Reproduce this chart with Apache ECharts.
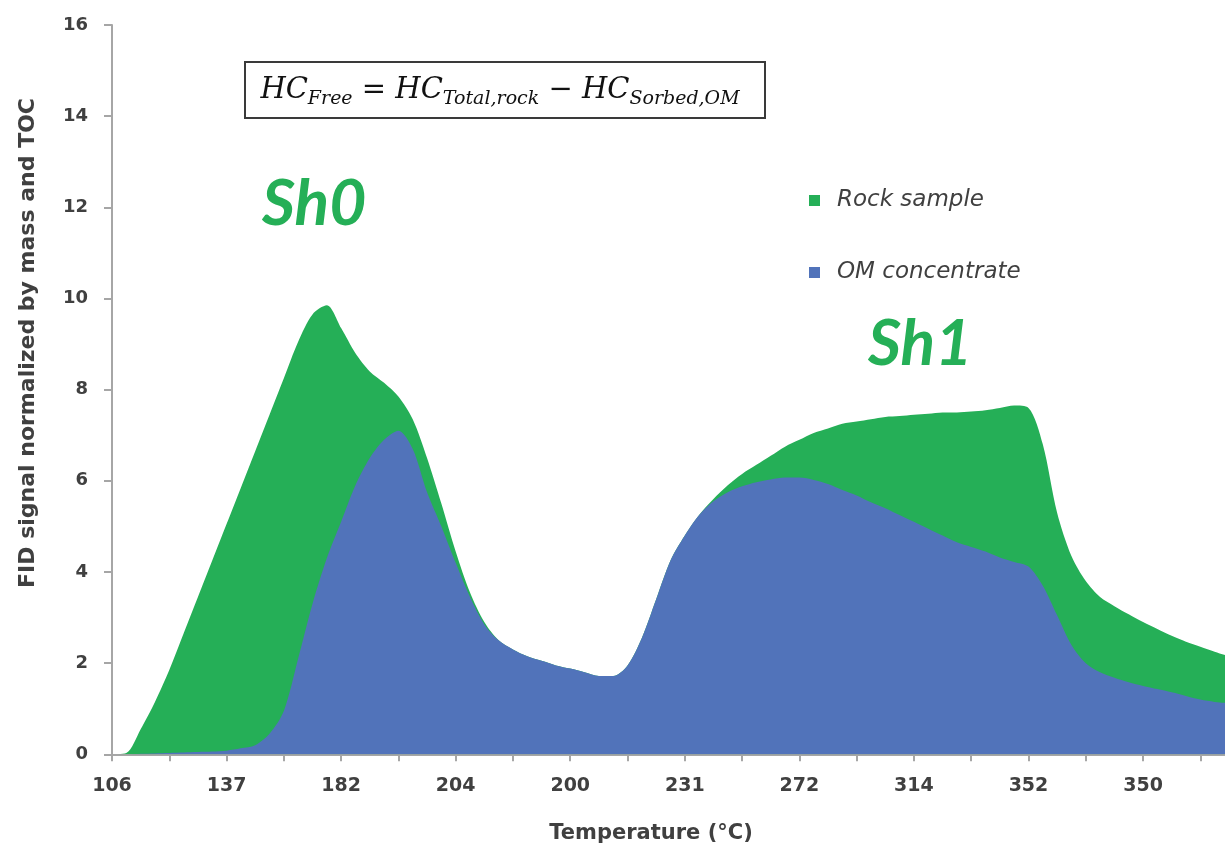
<!DOCTYPE html>
<html>
<head>
<meta charset="utf-8">
<script src="https://cdn.jsdelivr.net/npm/echarts@6/dist/echarts.min.js"></script>
<style>
html,body{margin:0;padding:0;background:#fff;}
#chart{width:1225px;height:848px;}
</style>
</head>
<body>
<div id="chart"></div>
<script>
// x tick labels (one every 8 samples; samples are spaced a quarter tick apart)
const tickLabels = ['106','137','182','204','200','231','272','314','352','350'];

// FID signal, Rock sample (green)
const rockSample = [
  0, 0.03, 0.55, 1.15, 1.85, 2.65, 3.45, 4.25,
  5.05, 5.85, 6.65, 7.45, 8.25, 9.05, 9.65, 9.85,
  9.35, 8.8, 8.4, 8.15, 7.85, 7.35, 6.5, 5.5,
  4.45, 3.55, 2.9, 2.5, 2.3, 2.15, 2.05, 1.95,
  1.88, 1.8, 1.72, 1.72, 1.95, 2.55, 3.4, 4.25,
  4.8, 5.25, 5.6, 5.9, 6.15, 6.35, 6.55, 6.75,
  6.9, 7.05, 7.15, 7.25, 7.3, 7.35, 7.4, 7.42,
  7.45, 7.47, 7.5, 7.5, 7.52, 7.55, 7.6, 7.65,
  7.6, 6.8, 5.3, 4.35, 3.8, 3.45, 3.25, 3.07,
  2.9, 2.75, 2.6, 2.47, 2.36, 2.25, 2.15, 2.05,
  1.95
];

// FID signal, OM concentrate (blue)
const omConcentrate = [
  0, 0, 0.01, 0.02, 0.03, 0.04, 0.05, 0.06,
  0.08, 0.13, 0.2, 0.45, 0.95, 2.1, 3.3, 4.3,
  5.1, 5.9, 6.5, 6.9, 7.1, 6.7, 5.75, 5.0,
  4.2, 3.45, 2.85, 2.5, 2.3, 2.15, 2.05, 1.95,
  1.88, 1.8, 1.72, 1.72, 1.95, 2.55, 3.4, 4.25,
  4.8, 5.25, 5.55, 5.75, 5.88, 5.97, 6.03, 6.07,
  6.07, 6.02, 5.93, 5.8, 5.68, 5.53, 5.4, 5.25,
  5.1, 4.95, 4.8, 4.65, 4.55, 4.45, 4.32, 4.22,
  4.12, 3.7, 3.05, 2.4, 2.0, 1.8, 1.68, 1.58,
  1.5, 1.43, 1.36, 1.28, 1.2, 1.15, 1.12, 1.08,
  1.05
];

const categories = rockSample.map((_, i) => String(i));
const seriesNames = ['Rock sample', 'OM concentrate'];
const yTicks = {min: 0, max: 16, interval: 2};

const GREEN = '#25AF57';
const BLUE = '#5173BA';
const TXT = '#404040';
const AX = '#a6a6a6';

const chart = echarts.init(document.getElementById('chart'), null, {renderer: 'canvas'});
chart.setOption({
  animation: false,
  backgroundColor: '#fff',
  grid: {left: 112, top: 25, bottom: 93.7, width: 1145.6, containLabel: false, outerBoundsMode: 'none'},
  xAxis: {
    type: 'category',
    data: categories,
    boundaryGap: false,
    axisLine: {lineStyle: {color: AX, width: 2}},
    axisTick: {interval: 3, length: 7, lineStyle: {color: AX, width: 2}},
    axisLabel: {
      interval: 7,
      margin: 22,
      color: TXT,
      fontFamily: 'DejaVu Sans',
      fontWeight: 'bold',
      fontSize: 19,
      formatter: (v, i) => { const k = Number(v) / 8; return tickLabels[k] !== undefined ? tickLabels[k] : ''; }
    },
    splitLine: {show: false}
  },
  yAxis: {
    type: 'value',
    min: yTicks.min, max: yTicks.max, interval: yTicks.interval,
    axisLine: {show: true, lineStyle: {color: AX, width: 2}},
    axisTick: {show: true, length: 8, lineStyle: {color: AX, width: 2}},
    axisLabel: {margin: 24, color: TXT, fontFamily: 'DejaVu Sans', fontWeight: 'bold', fontSize: 18},
    splitLine: {show: false}
  },
  legend: [
    {
      data: [seriesNames[0]], left: 804, top: 184, orient: 'vertical',
      icon: 'rect', itemWidth: 11, itemHeight: 11,
      textStyle: {color: TXT, fontFamily: 'DejaVu Sans', fontStyle: 'italic', fontSize: 23, padding: [0, 0, 0, 12]}
    },
    {
      data: [seriesNames[1]], left: 804, top: 256, orient: 'vertical',
      icon: 'rect', itemWidth: 11, itemHeight: 11,
      textStyle: {color: TXT, fontFamily: 'DejaVu Sans', fontStyle: 'italic', fontSize: 23, padding: [0, 0, 0, 12]}
    }
  ],
  series: [
    {
      name: seriesNames[0], type: 'line', data: rockSample, smooth: 0.3,
      symbol: 'none', lineStyle: {width: 0}, itemStyle: {color: GREEN},
      areaStyle: {color: GREEN, opacity: 1}, silent: true, z: 2
    },
    {
      name: seriesNames[1], type: 'line', data: omConcentrate, smooth: 0.3,
      symbol: 'none', lineStyle: {width: 0}, itemStyle: {color: BLUE},
      areaStyle: {color: BLUE, opacity: 1}, silent: true, z: 3
    }
  ],
  graphic: [
    {
      type: 'text', x: 28, y: 343, rotation: Math.PI / 2,
      style: {text: 'FID signal normalized by mass and TOC', font: 'bold 22px "DejaVu Sans"', fill: TXT, align: 'center', verticalAlign: 'middle'}
    },
    {
      type: 'text', x: 651, y: 834,
      style: {text: 'Temperature (°C)', font: 'bold 21px "DejaVu Sans"', fill: TXT, align: 'center', verticalAlign: 'middle'}
    },
    {
      type: 'rect', shape: {x: 245, y: 62, width: 520, height: 56},
      style: {fill: '#fff', stroke: '#3a3a3a', lineWidth: 2}, z: 10
    },
    {
      type: 'text', x: 500, y: 90, z: 11,
      style: {
        text: '{m|HC}{s|Free}{m| = HC}{s|Total,rock}{m| − HC}{s|Sorbed,OM}',
        align: 'center', verticalAlign: 'middle', fill: '#111',
        rich: {
          m: {fontFamily: 'DejaVu Serif', fontStyle: 'italic', fontSize: 29, color: '#111'},
          s: {fontFamily: 'DejaVu Serif', fontStyle: 'italic', fontSize: 19, color: '#111', padding: [18, 0, 0, 0]}
        }
      }
    },
    {
      type: 'text', left: 262, top: 172, z: 11,
      style: {text: 'Sh0', font: 'italic bold 64px Lato', fill: GREEN}
    },
    {
      type: 'text', left: 868, top: 312, z: 11,
      style: {text: 'Sh1', font: 'italic bold 64px Lato', fill: GREEN}
    }
  ]
});
</script>
</body>
</html>
